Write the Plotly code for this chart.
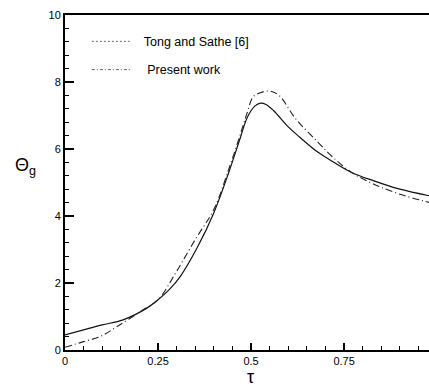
import plotly.graph_objects as go

# Tong and Sathe [6] (solid curve)
tau_ts = [0, 0.05, 0.1, 0.156, 0.22, 0.25, 0.28, 0.31, 0.355, 0.40, 0.44, 0.47, 0.49, 0.51, 0.525,
          0.54, 0.56, 0.6, 0.63, 0.68, 0.72, 0.77, 0.83, 0.9, 0.98]
theta_ts = [0.45, 0.6, 0.75, 0.9, 1.25, 1.5, 1.8, 2.2, 3.05, 4.1, 5.3, 6.3, 6.95, 7.28, 7.37,
            7.33, 7.15, 6.66, 6.36, 5.9, 5.62, 5.3, 5.05, 4.8, 4.6]

# Present work (dash-dot curve)
tau_pw = [0, 0.05, 0.094, 0.14, 0.21, 0.25, 0.30, 0.35, 0.40, 0.44, 0.47, 0.49, 0.505, 0.525,
          0.55, 0.575, 0.62, 0.68, 0.72, 0.77, 0.83, 0.9, 0.98]
theta_pw = [0.08, 0.25, 0.4, 0.7, 1.2, 1.5, 2.35, 3.3, 4.2, 5.4, 6.4, 7.1, 7.55, 7.68,
            7.73, 7.6, 6.9, 6.2, 5.75, 5.3, 4.95, 4.65, 4.4]

x_ticks = [0, 0.25, 0.5, 0.75]
x_labels = ["0", "0.25", "0.5", "0.75"]
y_ticks = [0, 2, 4, 6, 8, 10]
y_labels = ["0", "2", "4", "6", "8", "10"]

legend_names = ["Tong and Sathe [6]", "Present work"]

fig = go.Figure()
fig.add_trace(go.Scatter(x=tau_ts, y=theta_ts, mode="lines", line_shape="spline",
                         line=dict(color="#111", width=1.2), showlegend=False))
fig.add_trace(go.Scatter(x=tau_pw, y=theta_pw, mode="lines", line_shape="spline",
                         line=dict(color="#222", width=1.1, dash="7px,3px,1px,3px"),
                         showlegend=False))
# legend samples
fig.add_trace(go.Scatter(x=[None], y=[None], mode="lines", name="&nbsp;&nbsp;" + legend_names[0],
                         legendgroup="a",
                         line=dict(color="#666", width=1, dash="2px,2px")))
fig.add_trace(go.Scatter(x=[None], y=[None], mode="lines",
                         name="&nbsp;&nbsp;&nbsp;" + legend_names[1],
                         legendgroup="b",
                         line=dict(color="#666", width=1, dash="3px,2px,1px,2px")))

font = "Liberation Sans, Arial, sans-serif"
pw, ph = 429 - 65, 386 - 15 - 36
fig.update_layout(
    width=429, height=386,
    margin=dict(l=65, r=0, t=15, b=36),
    paper_bgcolor="white", plot_bgcolor="white",
    font=dict(family=font, color="black", size=12),
    legend=dict(x=0.06, y=0.965, xanchor="left", yanchor="top",
                bgcolor="rgba(0,0,0,0)", font=dict(size=12.5), tracegroupgap=9,
                itemwidth=40),
    xaxis=dict(range=[0, 0.978], tickvals=x_ticks, ticktext=x_labels,
               ticks="inside", ticklen=7, tickwidth=1.5, tickcolor="black",
               showline=True, linecolor="black", linewidth=2, mirror=True,
               showgrid=False, zeroline=False, tickfont=dict(size=11),
               minor=dict(dtick=0.05, ticks="inside", ticklen=4, tickcolor="black", tickwidth=1)),
    yaxis=dict(range=[0, 10], tickvals=y_ticks, ticktext=y_labels,
               ticks="inside", ticklen=9, tickwidth=1.5, tickcolor="black",
               showline=True, linecolor="black", linewidth=2,
               showgrid=False, zeroline=False, tickfont=dict(size=11),
               minor=dict(dtick=0.4, ticks="inside", ticklen=4, tickcolor="black", tickwidth=1)),
    annotations=[
        dict(text="Θ<sub>g</sub>", x=(25 - 65) / pw, y=(386 - 36 - 166) / ph,
             xref="paper", yref="paper", showarrow=False, xanchor="center", yanchor="middle",
             font=dict(size=18)),
        dict(text="τ", x=(250 - 65) / pw, y=(386 - 36 - 377) / ph,
             xref="paper", yref="paper", showarrow=False, xanchor="center", yanchor="middle",
             font=dict(size=18)),
    ],
)

fig.write_html("out.html")
